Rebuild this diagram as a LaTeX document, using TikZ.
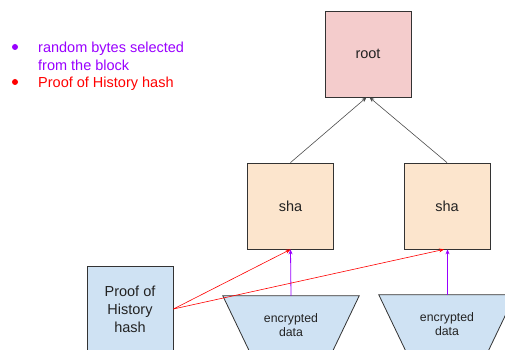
\documentclass[tikz,border=0pt]{standalone}
\usepackage{fontspec}
\setmainfont{Liberation Sans}
\usetikzlibrary{arrows.meta}
\definecolor{rootfill}{HTML}{F4CCCC}
\definecolor{shafill}{HTML}{FCE5CD}
\definecolor{encfill}{HTML}{CFE2F3}
\definecolor{inktext}{HTML}{222222}
\definecolor{purp}{HTML}{9900FF}
\definecolor{redline}{HTML}{FF0000}
\tikzset{
  hashbox/.style={draw=black!80, line width=0.8pt, minimum width=86pt, minimum height=86pt,
    text=inktext, align=center, font=\fontsize{14.5}{18}\selectfont},
  enctext/.style={minimum width=136pt, minimum height=58pt, inner sep=0pt,
    text=inktext, align=center, font=\fontsize{12.3}{14}\selectfont},
  treearrow/.style={draw=black!70, line width=0.6pt, -{Stealth[length=5pt,width=4pt]}},
  bytesarrow/.style={draw=purp, line width=0.8pt, -{Stealth[length=5pt,width=4pt]}},
  pohline/.style={draw=redline, line width=0.6pt, -{Stealth[length=5pt,width=4pt]}},
}

\begin{document}
\begin{tikzpicture}[x=1pt, y=-1pt]
    \useasboundingbox (0,0) rectangle (505,350);
    \clip (0,0) rectangle (505,350);

    % legend
    \fill[purp] (15,47) circle (3pt);
    \fill[redline] (15,82) circle (3pt);
    \node (legbytes) [anchor=west, text=purp, align=left, inner sep=0pt,
        font=\fontsize{14.5}{18}\selectfont] at (38,56) {random bytes selected\\from the block};
    \node (legpoh) [anchor=west, text=redline, inner sep=0pt,
        font=\fontsize{14.5}{18}\selectfont] at (38,83.5) {Proof of History hash};

    % hash tree
    \node (root) [hashbox, fill=rootfill] at (368,54) {root};
    \node (shaA) [hashbox, fill=shafill] at (290.5,206) {sha};
    \node (shaB) [hashbox, fill=shafill] at (447,206) {sha};
    \node (poh) [hashbox, fill=encfill] at (130,309) {Proof of\\History\\hash};

    % encrypted data blocks
    \node (encA) [enctext] at (291,325) {};
    \node (encB) [enctext] at (447,324) {};
    \foreach \e in {encA, encB}
        \filldraw[fill=encfill, draw=black!80, line width=0.8pt]
            (\e.north west) -- (\e.north east) -- ([xshift=-28pt]\e.south east)
            -- ([xshift=28pt]\e.south west) -- cycle;
    \node (encAtext) at (encA) [enctext] {encrypted\\data};
    \node (encBtext) at (encB) [enctext] {encrypted\\data};

    % connectors
    \draw[treearrow] (shaA.north) -- ([xshift=-1.5pt]root.south);
    \draw[treearrow] (shaB.north) -- ([xshift=1.5pt]root.south);
    \draw[bytesarrow] (encA.north) -- (shaA.south);
    \draw[bytesarrow] ([xshift=0.5pt]encB.north) -- ([xshift=0.5pt]shaB.south);
    \draw[pohline] (poh.east) -- (shaA.south);
    \draw[pohline] (poh.east) -- ([xshift=-3pt]shaB.south);
\end{tikzpicture}
\end{document}
